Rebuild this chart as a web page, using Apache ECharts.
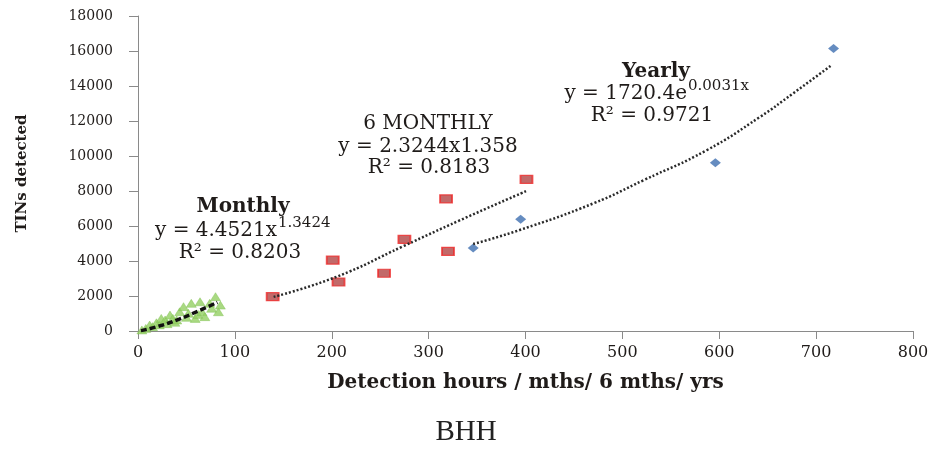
<!DOCTYPE html>
<html>
<head>
<meta charset="utf-8">
<script src="https://cdn.jsdelivr.net/npm/echarts@6/dist/echarts.min.js"></script>
<style>
html,body{margin:0;padding:0;background:#fff;}
#chart{width:935px;height:449px;}
</style>
</head>
<body>
<div id="chart"></div>
<script>
// ---- data ----
const xTicks = [0, 100, 200, 300, 400, 500, 600, 700, 800];
const yTicks = [0, 2000, 4000, 6000, 8000, 10000, 12000, 14000, 16000, 18000];

const monthlyPoints = [
  [4, 60], [8, 150], [12, 340], [15, 250], [19, 470], [22, 350], [24, 720], [28, 630],
  [30, 420], [33, 910], [36, 720], [38, 500], [40, 630], [43, 1100], [47, 1390],
  [50, 780], [52, 1010], [55, 1580], [59, 720], [62, 950], [64, 1670], [66, 1100],
  [69, 820], [74, 1580], [76, 1300], [80, 1960], [83, 1100], [85, 1480]
];
const sixMonthlyPoints = [
  [139, 1960], [201, 4050], [207, 2800], [254, 3300], [275, 5230], [318, 7550], [320, 4550], [401, 8660]
];
const yearlyPoints = [
  [346, 4740], [395, 6390], [596, 9610], [718, 16140]
];
// trend lines
const monthlyTrend = [[3, 20], [20, 250], [42, 670], [62, 1140], [82, 1640]];
const sixMonthlyTrend = [[140, 1950], [205, 3100], [274, 4850], [332, 6320], [401, 8000]];
const yearlyTrend = [[346, 4970], [394, 5770], [470, 7290], [522, 8620], [587, 10330], [642, 12230], [676, 13570], [716, 15190]];

const SERIF = '"DejaVu Serif", "Liberation Serif", serif';
const TXT = '#1f1b19';

const chart = echarts.init(document.getElementById('chart'), null, {renderer: 'canvas'});

function t(text, x, y, size, weight, align) {
  return {
    type: 'text',
    style: {
      text: text, x: x, y: y,
      textAlign: align || 'center', textVerticalAlign: 'middle',
      font: (weight || 'normal') + ' ' + size + 'px ' + SERIF,
      fill: TXT
    },
    silent: true
  };
}

const option = {
  backgroundColor: '#ffffff',
  animation: false,
  grid: {left: 138, right: 22, top: 16, bottom: 118, containLabel: false},
  xAxis: {
    type: 'value', min: xTicks[0], max: xTicks[xTicks.length - 1], interval: 100,
    name: 'Detection hours / mths/ 6 mths/ yrs',
    nameLocation: 'middle', nameGap: 42,
    nameTextStyle: {fontFamily: SERIF, fontWeight: 'bold', fontSize: 20, color: TXT},
    axisLine: {show: true, lineStyle: {color: '#8a8a8a', width: 1}},
    axisTick: {show: true, inside: false, length: 8, lineStyle: {color: '#8a8a8a'}},
    axisLabel: {fontFamily: SERIF, fontSize: 16, color: TXT, margin: 14, formatter: v => String(v)},
    splitLine: {show: false}
  },
  yAxis: {
    type: 'value', min: yTicks[0], max: yTicks[yTicks.length - 1], interval: 2000,
    name: 'TINs detected',
    nameLocation: 'middle', nameGap: 108, nameRotate: 90,
    nameTextStyle: {fontFamily: SERIF, fontWeight: 'bold', fontSize: 15, color: TXT},
    axisLine: {show: true, lineStyle: {color: '#8a8a8a', width: 1}},
    axisTick: {show: true, inside: false, length: 9, lineStyle: {color: '#8a8a8a'}},
    axisLabel: {fontFamily: SERIF, fontSize: 14, color: TXT, margin: 25, formatter: v => String(v)},
    splitLine: {show: false}
  },
  series: [
    {
      name: 'Monthly', type: 'scatter', data: monthlyPoints,
      symbol: 'triangle', symbolSize: [10, 8],
      itemStyle: {color: '#93d063', borderColor: '#7bbf4a', borderWidth: 0.5}
    },
    {
      name: '6 Monthly', type: 'scatter', data: sixMonthlyPoints,
      symbol: 'rect', symbolSize: [12, 8],
      itemStyle: {color: '#b34444', borderColor: '#ee2a2a', borderWidth: 1.5}
    },
    {
      name: 'Yearly', type: 'scatter', data: yearlyPoints,
      symbol: 'diamond', symbolSize: [11, 9],
      itemStyle: {color: '#3f6fb0'}
    },
    {
      name: 'Monthly trend', type: 'line', data: monthlyTrend, smooth: true,
      showSymbol: false, symbol: 'none',
      lineStyle: {color: '#111', width: 3.5, type: [6, 3]}, z: 5
    },
    {
      name: '6 Monthly trend', type: 'line', data: sixMonthlyTrend, smooth: true,
      showSymbol: false, symbol: 'none',
      lineStyle: {color: '#2a2a2a', width: 2.5, type: [2, 2]}, z: 5
    },
    {
      name: 'Yearly trend', type: 'line', data: yearlyTrend, smooth: true,
      showSymbol: false, symbol: 'none',
      lineStyle: {color: '#2a2a2a', width: 2.5, type: [2, 2]}, z: 5
    }
  ],
  graphic: [
    t('Monthly', 243, 207, 20, 'bold'),
    t('y = 4.4521x', 277, 231, 20, 'normal', 'right'),
    t('1.3424', 278, 223, 15, 'normal', 'left'),
    t('R² = 0.8203', 240, 253, 20),
    t('6 MONTHLY', 428, 124, 20),
    t('y = 2.3244x1.358', 428, 147, 20),
    t('R² = 0.8183', 429, 168, 20),
    t('Yearly', 656, 72, 20, 'bold'),
    t('y = 1720.4e', 687, 94, 20, 'normal', 'right'),
    t('0.0031x', 688, 86, 15, 'normal', 'left'),
    t('R² = 0.9721', 652, 116, 20),
    {
      type: 'text',
      style: {text: 'BHH', x: 466, y: 432, textAlign: 'center', textVerticalAlign: 'middle',
        font: 'normal 29px "Liberation Serif", serif', fill: '#222'},
      silent: true
    }
  ]
};
chart.setOption(option);
</script>
</body>
</html>
